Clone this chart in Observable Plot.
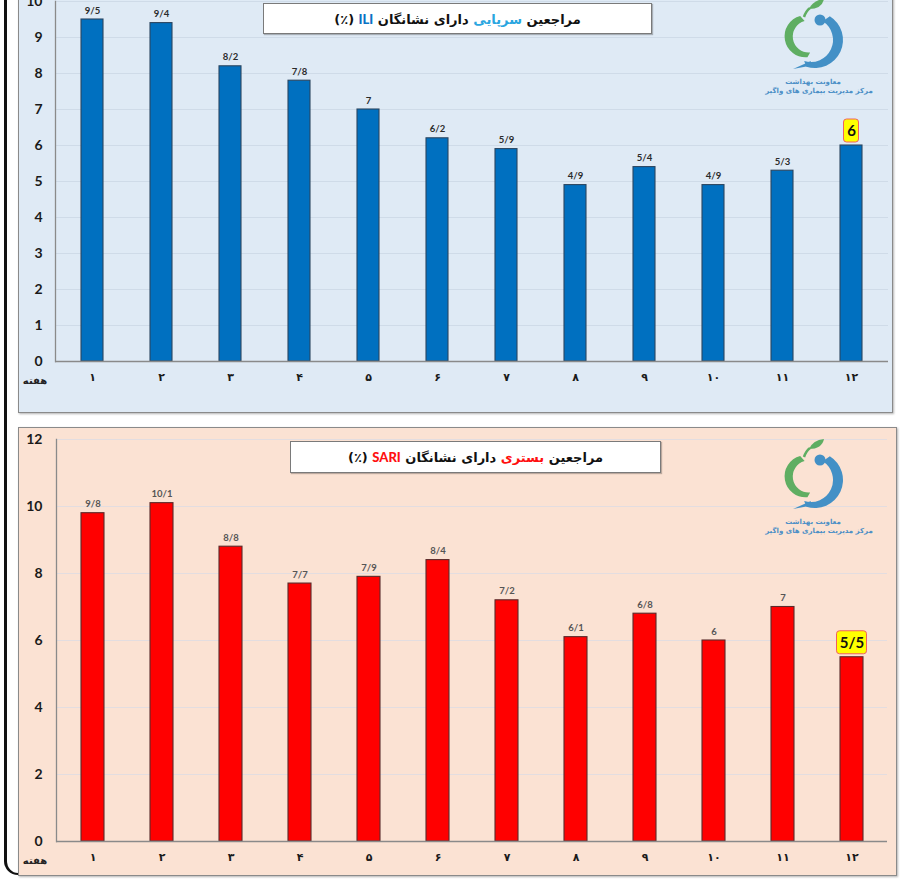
<!DOCTYPE html>
<html><head><meta charset="utf-8">
<script src="https://cdn.jsdelivr.net/npm/d3@7"></script>
<script src="https://cdn.jsdelivr.net/npm/@observablehq/plot@0.6"></script>
<style>
body{margin:0;width:900px;height:879px;position:relative;overflow:hidden;background:#fff;font-family:"DejaVu Sans",sans-serif}
.panel{position:absolute;box-sizing:border-box;border:1px solid #8a8a8a;box-shadow:1px 1px 2px rgba(0,0,0,.3)}
.holder{position:absolute;left:0;top:0}
.holder svg{display:block;background:transparent}
.holder [aria-label="y-axis tick label"] text{font-weight:bold;font-family:Lato,"Liberation Sans",sans-serif}
.holder [aria-label="x-axis tick label"] text{font-weight:bold;font-family:"DejaVu Sans",sans-serif}
.title{position:absolute;box-sizing:border-box;background:#fff;border:1px solid #7a7a7a;box-shadow:1px 1px 1px rgba(0,0,0,.25);
  display:flex;align-items:center;justify-content:center;direction:rtl;font-weight:bold;font-size:13px;color:#111}
.week{position:absolute;font-size:10px;font-weight:bold;color:#222;direction:rtl;transform:translate(-50%,-50%)}
.frame{position:absolute;left:4px;top:-20px;width:30px;height:895px;box-sizing:border-box;border-left:3px solid #111;border-bottom:2px solid #111;border-bottom-left-radius:14px}
.frame2{position:absolute;left:18px;top:860px;width:30px;height:30px;background:#fff}
</style></head>
<body>
<div class="frame"></div>
<div class="frame2"></div>
<div class="panel" id="p1" style="left:18px;top:-12px;width:875px;height:425px;background:#dfeaf5"></div>
<div class="panel" id="p2" style="left:18px;top:427px;width:879px;height:449px;background:#fbe2d3"></div>
<script>
const weeks = [1,2,3,4,5,6,7,8,9,10,11,12];
const weekLabels = ["۱","۲","۳","۴","۵","۶","۷","۸","۹","۱۰","۱۱","۱۲"];
const iliValues = [9.5,9.4,8.2,7.8,7,6.2,5.9,4.9,5.4,4.9,5.3,6];
const iliLabels = ["9/5","9/4","8/2","7/8","7","6/2","5/9","4/9","5/4","4/9","5/3","6"];
const sariValues = [9.8,10.1,8.8,7.7,7.9,8.4,7.2,6.1,6.8,6,7,5.5];
const sariLabels = ["9/8","10/1","8/8","7/7","7/9","8/4","7/2","6/1","6/8","6","7","5/5"];
const iliTicks = [0,1,2,3,4,5,6,7,8,9,10];
const sariTicks = [0,2,4,6,8,10,12];

function chart(cfg){
  const data = weeks.map((w,i)=>({week:w, v:cfg.values[i], label:cfg.labels[i]}));
  const last = data.slice(-1);
  const rest = data.slice(0,-1);
  const fmt = w => weekLabels[weeks.indexOf(w)];
  return Plot.plot({
    width: cfg.width, height: cfg.height,
    marginTop: cfg.mt, marginBottom: cfg.mb, marginLeft: cfg.ml, marginRight: cfg.mr,
    style:{background:"transparent", overflow:"visible"},
    x:{type:"band", domain:weeks, paddingInner:cfg.pi, paddingOuter:cfg.po, axis:null},
    y:{domain:[0, cfg.max], axis:null},
    marks:[
      Plot.gridY(cfg.ticks.filter(t=>t>0), {stroke:cfg.grid, strokeOpacity:1, strokeWidth:1}),
      Plot.frame({anchor:"left", stroke:"#8a8a8a", strokeWidth:1.3}),
      Plot.axisY({ticks:cfg.ticks, tickSize:0, tickPadding:cfg.tp, fontSize:14, fill:"#1a1a1a", label:null, tickFormat:d=>String(d)}),
      Plot.axisX({tickSize:0, tickPadding:12, fontSize:11, fill:"#1a1a1a", label:null, tickFormat:fmt}),
      Plot.barY(data, {x:"week", y:"v", fill:cfg.fill, stroke:cfg.barStroke, strokeWidth:1.1}),
      Plot.ruleY([0], {stroke:"#8a8a8a", strokeWidth:1.5}),
      Plot.text(rest, {x:"week", y:"v", text:"label", dy:-9, fontSize:9.5, fontWeight:"bold", fill:cfg.labelFill, fontFamily:"Lato, sans-serif"}),
      Plot.barY(last, {x:"week", y1:"v", y2:"v", insetTop:-26, insetBottom:3, insetLeft:cfg.hlInset, insetRight:cfg.hlInset, fill:"#ffff00", stroke:"#f06060", strokeWidth:1, rx:3}),
      Plot.text(last, {x:"week", y:"v", text:"label", dy:-14.5, fontSize:15, fontWeight:"bold", fill:"#111", fontFamily:"Lato, sans-serif"})
    ]
  });
}

function crescent(cx, cy, ro, ri, shift, a0, a1, sweep){
  const P = (x, y, r, a) => [x + r*Math.cos(a*Math.PI/180), y + r*Math.sin(a*Math.PI/180)];
  const o0 = P(cx, cy, ro, a0), o1 = P(cx, cy, ro, a1);
  const i0 = P(cx+shift, cy, ri, a0), i1 = P(cx+shift, cy, ri, a1);
  return `M ${o0} A ${ro} ${ro} 0 0 ${sweep} ${o1} L ${i1} A ${ri} ${ri} 0 0 ${1-sweep} ${i0} Z`;
}

function logo(ax, ay){
  const green = crescent(ax-11, ay-8, 21, 16, 4, -95, 75, 0);
  const blue = crescent(ax+2, ay-5, 28, 22, -4, -58, 108, 1);
  return `<svg width="140" height="110" viewBox="${ax-70} ${ay-45} 140 110" style="position:absolute;left:${ax-70}px;top:${ay-45}px;overflow:visible">
   <path d="${green}" fill="#5fae62"/>
   <path d="M ${ax-9} ${ay-28} q 2 -6 6 -9" fill="none" stroke="#5fae62" stroke-width="2.5"/>
   <path d="M ${ax-4} ${ay-36} q 4 -9 15 -10 q -2 10 -15 10 z" fill="#5fae62"/>
   <path d="${blue}" fill="#4390c6"/>
   <path d="M ${ax-4} ${ay+21} L ${ax-20} ${ay+24} L ${ax-2} ${ay+16} Z" fill="#4390c6"/>
   <circle cx="${ax+7}" cy="${ay-25}" r="5.5" fill="#4390c6"/>
   <text x="${ax}" y="${ay+39}" text-anchor="middle" font-size="7" font-weight="bold" fill="#4a8ec6" direction="rtl">معاونت بهداشت</text>
   <text x="${ax+6}" y="${ay+48}" text-anchor="middle" font-size="7" font-weight="bold" fill="#4a8ec6" direction="rtl">مرکز مدیریت بیماری های واگیر</text>
  </svg>`;
}

function build(panelId, cfg, titleHTML, titleBox, weekPos, logoPos){
  const panel = document.getElementById(panelId);
  const holder = document.createElement("div");
  holder.className = "holder";
  holder.appendChild(chart(cfg));
  panel.appendChild(holder);
  const t = document.createElement("div");
  t.className = "title";
  t.style.cssText = `left:${titleBox[0]}px;top:${titleBox[1]}px;width:${titleBox[2]}px;height:${titleBox[3]}px`;
  t.innerHTML = titleHTML;
  document.body.appendChild(t);
  const w = document.createElement("div");
  w.className = "week";
  w.style.left = weekPos[0]+"px"; w.style.top = weekPos[1]+"px";
  w.textContent = "هفته";
  document.body.appendChild(w);
  document.body.insertAdjacentHTML("beforeend", logo(logoPos[0], logoPos[1]));
}

build("p1", {values:iliValues, labels:iliLabels, ticks:iliTicks, max:10, width:873, height:412, mt:12, mb:40, ml:36, mr:4,
  pi:0.68, po:0.316, tp:13, grid:"#cfdbe8", fill:"#0070c0", barStroke:"#2b4560", labelFill:"#2a2a2a", hlInset:3.5},
  '<span>مراجعین&nbsp;<span style="color:#2aa6e0">سرپایی</span>&nbsp;دارای نشانگان&nbsp;<span style="color:#0a72c4;font-family:Lato,sans-serif;font-weight:900">ILI</span>&nbsp;(٪)</span>',
  [263,3,389,31], [35,380], [813,45]);

build("p2", {values:sariValues, labels:sariLabels, ticks:sariTicks, max:12, width:877, height:447, mt:11, mb:34, ml:37, mr:9,
  pi:0.67, po:0.332, tp:14, grid:"#e3dde0", fill:"#ff0000", barStroke:"#5a2a2a", labelFill:"#555", hlInset:-3.5},
  '<span>مراجعین&nbsp;<span style="color:#ff1010">بستری</span>&nbsp;دارای نشانگان&nbsp;<span style="color:#ff1010;font-family:Lato,sans-serif;font-weight:900">SARI</span>&nbsp;(٪)</span>',
  [290,441,371,32], [35,860], [813,485]);
</script>
</body></html>
